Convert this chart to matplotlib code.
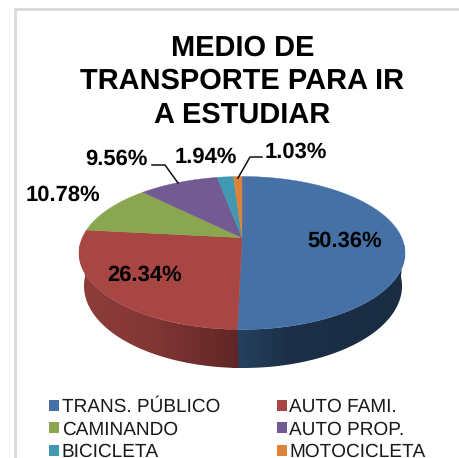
import numpy as np
import matplotlib
matplotlib.use("Agg")
import matplotlib.pyplot as plt
from matplotlib.patches import Patch, Polygon

categorias = ["TRANS. PÚBLICO", "AUTO FAMI.", "CAMINANDO", "AUTO PROP.", "BICICLETA", "MOTOCICLETA"]
valores = [50.36, 26.34, 10.78, 9.56, 1.94, 1.03]
colores = ["#4571A7", "#A84643", "#8BA650", "#725A92", "#4099B1", "#DC8239"]
titulo = "MEDIO DE\nTRANSPORTE PARA IR\nA ESTUDIAR"

plt.rcParams["font.family"] = ["Liberation Sans", "DejaVu Sans"]
plt.rcParams["text.hinting"] = "no_hinting"
plt.rcParams["text.hinting_factor"] = 1

# posiciones de las etiquetas, en pixeles de la imagen
pos_etiquetas = [(345, 241), (145, 275), (63, 195), (116, 159), (206, 157), (296, 152)]

# pastel visto en perspectiva: elipse superior, elipse inferior y desplazamiento del centro
persp = 0.2


def proyectar(grados, cx, cy, rx, ry):
    t = np.radians(grados)
    u, v = np.sin(t), np.cos(t)
    den = 1 + persp * v
    x = u * np.sqrt(1 - persp ** 2) / den
    y = (v + persp) / den
    return cx + rx * x, cy - ry * y


def sup(grados):
    return proyectar(grados, 242, 253, 163, 76.5)


def inf(grados):
    return proyectar(grados, 243, 286, 159, 82)


fig = plt.figure(figsize=(4.59, 4.58), dpi=100)
ax = fig.add_axes([0, 0, 1, 1])

# borde gris del grafico
ax.plot([15, 15, 459], [458, 9, 9], color="#d9d9d9", lw=2, solid_joinstyle="miter")

limites = np.concatenate([[0], np.cumsum(valores)]) * 360 / sum(valores)

# pared lateral, solo azul y rojo se ven de frente; degradado horizontal recortado
grad_x = np.arange(70, 416)
sombras = [
    ([238, 290, 405], [(37, 65, 95), (28, 47, 71), (26, 44, 66)]),
    ([82, 150, 238], [(143, 61, 58), (130, 55, 53), (96, 38, 37)]),
]
for i, (xp, cols) in enumerate(sombras):
    ini = max(limites[i], 95)
    # el azul pasa un poco por debajo del rojo para que no quede una raya blanca
    fin = min(limites[i + 1] + (2 if i == 0 else 0), 265)
    angs = np.linspace(ini, fin, 200)
    xa, ya = sup(angs)
    xb, yb = inf(angs[::-1])
    borde = Polygon(np.c_[np.r_[xa, xb], np.r_[ya, yb]], closed=True, transform=ax.transData,
                    facecolor="none", edgecolor="none")
    ax.add_patch(borde)
    cols = np.array(cols) / 255
    tira = np.stack([np.interp(grad_x, xp, cols[:, k]) for k in range(3)], axis=-1)[None, :, :]
    im = ax.imshow(tira, extent=(70, 416, 400, 240), aspect="auto", interpolation="bilinear")
    im.set_clip_path(borde)

# cara superior
cx0, cy0 = 242, 253 - 76.5 * persp
for i, color in enumerate(colores):
    angs = np.linspace(limites[i], limites[i + 1], max(int(limites[i + 1] - limites[i]), 2) * 2)
    xs, ys = sup(angs)
    ax.fill(np.r_[cx0, xs], np.r_[cy0, ys], color=color, lw=0.3)

# etiquetas
for v, (x, y) in zip(valores, pos_etiquetas):
    ax.text(x, y, f"{v:.2f}%", ha="center", va="center", fontsize=15.7, fontweight="bold", color="black")

# lineas guia
ax.plot([152, 165, 178], [165, 165, 183], color="#111111", lw=1.1)
ax.plot([262, 250, 238], [157, 157, 178], color="#111111", lw=1.1)

ax.text(242.5, 81.5, titulo, ha="center", va="center", fontsize=20.9, fontweight="bold",
        color="black", linespacing=1.3)

# la leyenda llena por columnas, el original va por filas
orden = [0, 2, 4, 1, 3, 5]
handles = [Patch(facecolor=colores[i], edgecolor="none") for i in orden]
ax.legend(handles, [categorias[i] for i in orden], ncols=2, loc="upper left",
          bbox_to_anchor=(49 / 459, 1 - 398 / 458),
          frameon=False, fontsize=13.4, handlelength=0.53, handleheight=0.53, handletextpad=0.15,
          labelspacing=0.27, columnspacing=3.05, borderpad=0, borderaxespad=0, labelcolor="#1a1a1a")

ax.set_xlim(0, 459)
ax.set_ylim(458, 0)
ax.axis("off")

plt.savefig("out.png", dpi=100)
